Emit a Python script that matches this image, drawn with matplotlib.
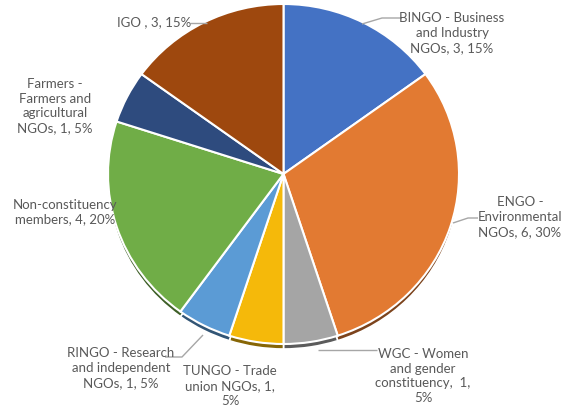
import matplotlib
matplotlib.use("Agg")
import matplotlib.pyplot as plt
import numpy as np

# Membership by constituency
labels = [
    "BINGO - Business\nand Industry\nNGOs, 3, 15%",
    "ENGO -\nEnvironmental\nNGOs, 6, 30%",
    "WGC - Women\nand gender\nconstituency,  1,\n5%",
    "TUNGO - Trade\nunion NGOs, 1,\n5%",
    "RINGO - Research\nand independent\nNGOs, 1, 5%",
    "Non-constituency\nmembers, 4, 20%",
    "Farmers -\nFarmers and\nagricultural\nNGOs, 1, 5%",
    "IGO , 3, 15%",
]
counts = [3, 6, 1, 1, 1, 4, 1, 3]
colors = ["#4472C4", "#E27A32", "#A5A5A5", "#F5B90A",
          "#5B9BD5", "#70AD47", "#2E4B7E", "#9E480E"]

W, H = 562, 411
fig = plt.figure(figsize=(W / 100, H / 100), dpi=100)
ax = fig.add_axes([0, 0, 1, 1])

# pie geometry in pixel space
cx, cy, rx, ry = 283.5, 174.0, 175.5, 170.0


def px(x, y):
    """pixel position (origin top-left) -> data coordinates of the unit pie"""
    return ((x - cx) / rx, (cy - y) / ry)


def darken(c, f=0.55):
    r, g, b = matplotlib.colors.to_rgb(c)
    return (r * f, g * f, b * f)


# dark rim under the pie for a slight depth effect
depth = 5.0 / ry
ax.pie(counts, colors=[darken(c) for c in colors], startangle=90,
       counterclock=False, radius=1.0, center=(0, -depth),
       wedgeprops=dict(edgecolor="white", linewidth=1.2))
ax.pie(counts, colors=colors, startangle=90, counterclock=False, radius=1.0,
       wedgeprops=dict(edgecolor="white", linewidth=1.5))

ax.set_aspect("auto")
ax.set_xlim((0 - cx) / rx, (W - cx) / rx)
ax.set_ylim((cy - H) / ry, cy / ry)
ax.axis("off")

txt_kw = dict(fontsize=9.5, color="#595959", ha="center", va="center",
              family="Lato", linespacing=1.27)

label_pos = [(452, 33), (520, 217), (423, 376), (230, 386),
             (121, 368), (65, 212), (55, 106), (154, 22)]
for lab, (x, y) in zip(labels, label_pos):
    ax.text(*px(x, y), lab, **txt_kw)

# leader lines
leaders = [
    [(362, 24), (382, 18), (402, 18)],
    [(453, 223), (468, 218), (478, 218)],
    [(318, 350), (377, 350)],
    [(203, 335), (182, 357), (165, 357)],
    [(190, 23), (207, 23)],
]
for pts in leaders:
    xs, ys = zip(*[px(a, b) for a, b in pts])
    ax.plot(xs, ys, color="#A6A6A6", lw=1.0, solid_capstyle="butt")

fig.savefig("out.png", dpi=100)
